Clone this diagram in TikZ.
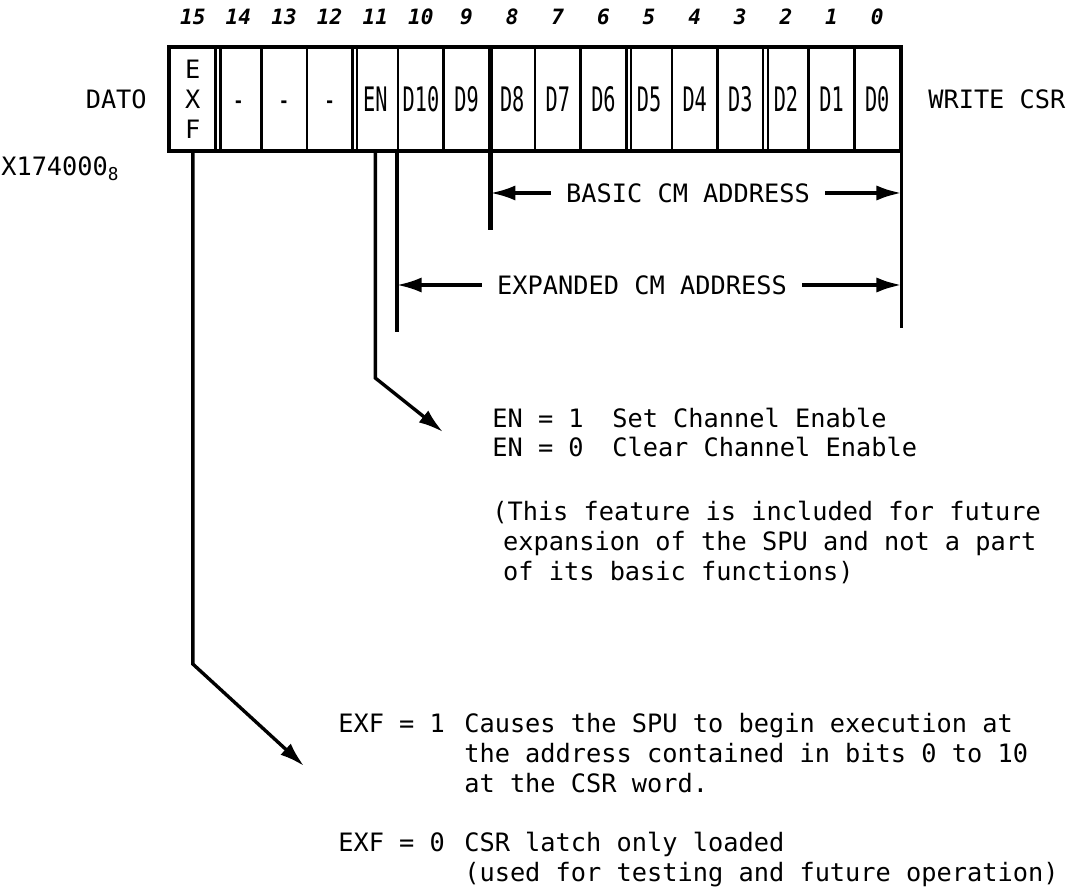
\documentclass[tikz,border=0pt]{standalone}
\usepackage{fontspec}
\usepackage{tikz}
\usetikzlibrary{arrows.meta, calc}
\newfontfamily\typefont{DejaVu Sans Mono}
\newfontfamily\cellfont[FakeStretch=0.6]{DejaVu Sans Mono}

\begin{document}
\begin{tikzpicture}[
    x=0.025cm, y=-0.025cm,
    every node/.style={font=\typefont\fontsize{18pt}{21.3pt}\selectfont, inner sep=0pt},
    cell/.style={draw, line width=1.8pt, minimum width=1.1406cm, minimum height=2.55cm},
    celltext/.style={font=\cellfont\fontsize{24pt}{28pt}\selectfont, anchor=base},
    bitnum/.style={font=\typefont\bfseries\itshape\fontsize{15pt}{17pt}\selectfont},
    txt/.style={anchor=base west, align=left},
    conn/.style={line width=2.4pt},
    arr/.style={line width=2.4pt, -{Latex[length=0.62cm, width=0.38cm]}},
    dimlbl/.style={inner xsep=0.38cm},
]
    \useasboundingbox (0,0) rectangle (1084,891);

    % Register cells
    \foreach \b in {0,...,15}
        \node[cell] (c\b) at ({192.81+(15-\b)*45.625}, 99) {};
    \foreach \b/\lab in {14/-, 13/-, 12/-, 11/EN, 10/D10, 9/D9, 8/D8, 7/D7,
                         6/D6, 5/D5, 4/D4, 3/D3, 2/D2, 1/D1, 0/D0}
        \node[celltext] (l\b) at (c\b |- 0,112) {\lab};
    \node[align=center] (l15) at (c15) {E\\X\\F};

    % Bit numbers
    \foreach \b in {0,...,15}
        \node[bitnum] (n\b) at (c\b |- 0,17) {\b};

    % Frame and group separators
    \draw[line width=2.6pt] (c15.north west) rectangle (c0.south east);
    \foreach \b in {15,12,6,3}
        \draw[line width=1.5pt] ([xshift=0.09cm]c\b.north east) -- ([xshift=0.09cm]c\b.south east);

    % Side labels
    \node[anchor=base east] (dato) at (147,109) {DATO};
    \node[anchor=base west] (addr) at (1,176) {X174000\textsubscript{8}};
    \node[anchor=base west] (write) at (928,109) {WRITE CSR};

    % Address ranges
    \coordinate (basicEnd) at (c9.south east |- 0,230);
    \coordinate (expEnd) at (c10.south west |- 0,332);
    \coordinate (rightEnd) at (c0.south east |- 0,328);
    \draw[line width=3.2pt] (c9.north east) -- (basicEnd);
    \draw[conn] (c10.south west) -- (expEnd);
    \draw[conn] (c0.south east) -- (rightEnd);

    \node[dimlbl] (basic) at (688,193) {BASIC CM ADDRESS};
    \draw[arr] (basic.west) -- (basic.west -| c9.south east);
    \draw[arr] (basic.east) -- (basic.east -| c0.south east);

    \node[dimlbl] (expanded) at (642,285) {EXPANDED CM ADDRESS};
    \draw[arr] (expanded.west) -- (expanded.west -| c10.south west);
    \draw[arr] (expanded.east) -- (expanded.east -| c0.south east);

    % EN bit
    \coordinate (enKnee) at (c11.south |- 0,378);
    \coordinate (enTip) at (443,432);
    \draw[arr] (c11.south) -- (enKnee) -- (enTip);

    \node[txt] (en1) at (492,428) {EN = 1};
    \node[txt] (en1d) at (612,428) {Set Channel Enable};
    \node[txt] (en0) at (492,457) {EN = 0};
    \node[txt] (en0d) at (612,457) {Clear Channel Enable};
    \node[txt] (note) at (492,580) {(This feature is included for future\\
        \hspace*{0.27cm}expansion of the SPU and not a part\\
        \hspace*{0.27cm}of its basic functions)};

    % EXF bit
    \coordinate (exfKnee) at (c15.south |- 0,664);
    \coordinate (exfTip) at (304,766);
    \draw[arr] (c15.south) -- (exfKnee) -- (exfTip);

    \node[txt] (exf1) at (338,732) {EXF = 1};
    \node[txt] (exf1d) at (464,792) {Causes the SPU to begin execution at\\
        the address contained in bits 0 to 10\\
        at the CSR word.};
    \node[txt] (exf0) at (338,851) {EXF = 0};
    \node[txt] (exf0d) at (464,881) {CSR latch only loaded\\
        (used for testing and future operation)};
\end{tikzpicture}
\end{document}
